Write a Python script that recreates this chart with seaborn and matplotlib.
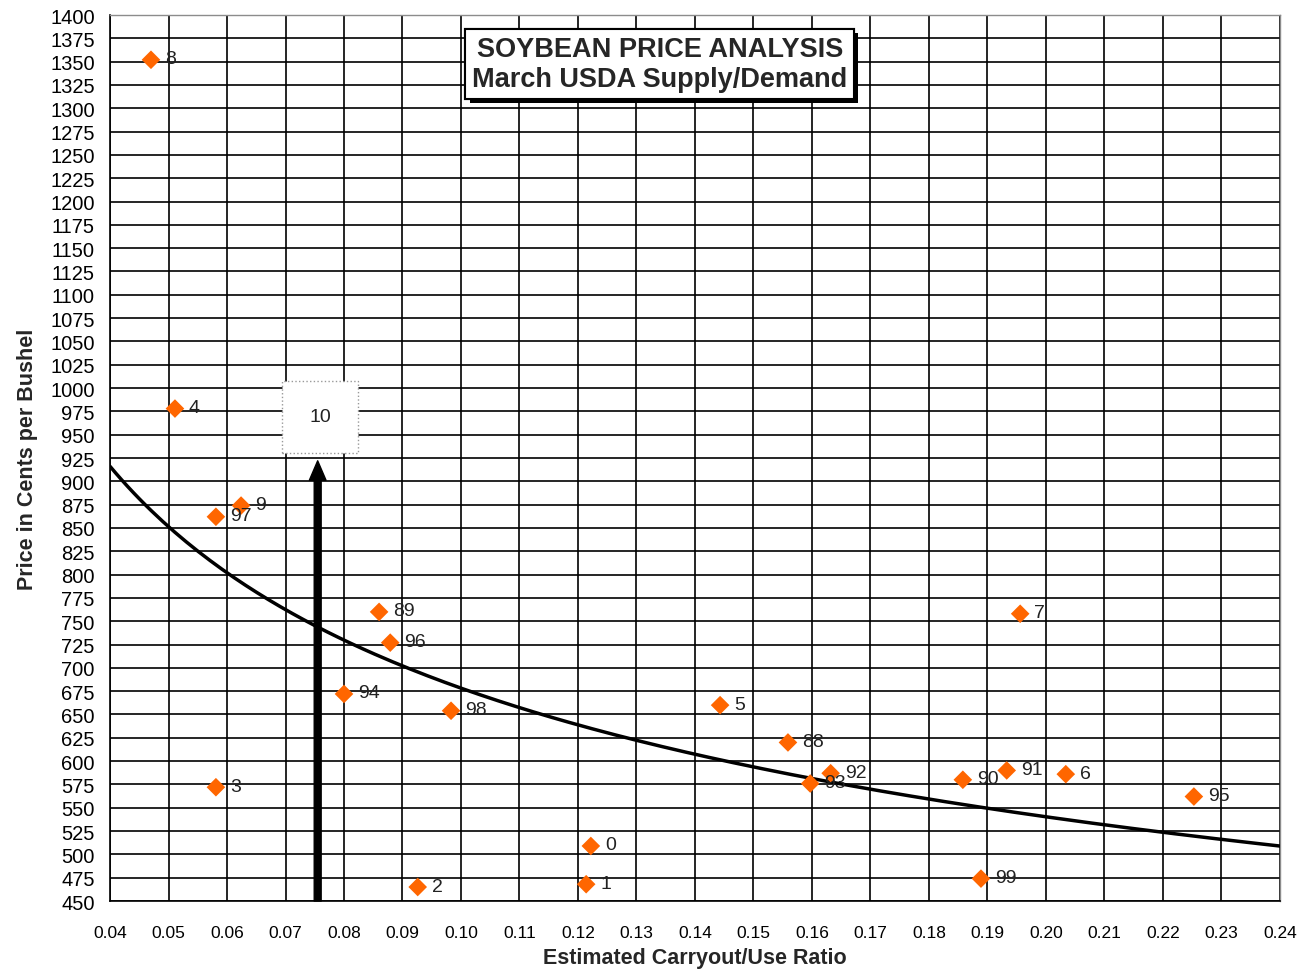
import numpy as np
import pandas as pd
import seaborn as sns
import matplotlib.pyplot as plt
import matplotlib.patheffects as pe

# data
years = ["8", "4", "9", "97", "3", "89", "96", "94", "98", "2", "1", "0",
         "5", "88", "93", "92", "90", "91", "6", "7", "95", "99"]
ratio = [0.047, 0.0511, 0.0624, 0.0581, 0.0581, 0.0860, 0.0879, 0.0800, 0.0983, 0.0926, 0.1214, 0.1222,
         0.1443, 0.1559, 0.1597, 0.1632, 0.1858, 0.1933, 0.2034, 0.1956, 0.2253, 0.1889]
price = [1352, 978, 874, 862, 572, 760, 727, 672, 654, 465, 468, 509,
         660, 620, 576, 587, 580, 590, 586, 758, 562, 474]

# power trendline (y = a * x^b)
trend_a = 318.7
trend_b = -0.328

arrow_x = 0.0755
arrow_top = 922
box_label = "10"
box_y = 969

df = pd.DataFrame({"ratio": ratio, "price": price, "year": years})

sns.set_style("white")
plt.rcParams["font.family"] = ["Liberation Sans", "DejaVu Sans"]

fig = plt.figure(figsize=(13.1, 9.7), dpi=100)
ax = fig.add_axes([0.084, 0.0701, 0.893, 0.9134])

# trend line
tx = np.linspace(0.04, 0.24, 200)
trend = pd.DataFrame({"x": tx, "y": trend_a * tx ** trend_b})
sns.lineplot(data=trend, x="x", y="y", ax=ax, color="black", linewidth=2.5, zorder=3)

# points
sns.scatterplot(data=df, x="ratio", y="price", ax=ax, marker="D", s=90,
                color="#FF6600", edgecolor="none", zorder=4)

for _, r in df.iterrows():
    ax.annotate(r["year"], (r["ratio"], r["price"]), xytext=(14, 1),
                textcoords="offset pixels", va="center", ha="left",
                fontsize=14, color="#222222", zorder=5)

# arrow pointing at 2010
ax.annotate("", xy=(arrow_x, arrow_top), xytext=(arrow_x, 450),
            arrowprops=dict(facecolor="black", edgecolor="black", width=5,
                            headwidth=12, headlength=14), zorder=6)
ax.text(arrow_x + 0.0004, box_y, box_label, ha="center", va="center", fontsize=14,
        color="#222222", zorder=5,
        bbox=dict(boxstyle="square,pad=1.4", fc="white", ec="0.6", ls=":", lw=1))

ax.set_xlim(0.04, 0.24)
ax.set_ylim(450, 1400)
ax.set_xticks(np.arange(0.04, 0.2401, 0.01))
ax.set_xticklabels([f"{v:.2f}" for v in np.arange(0.04, 0.2401, 0.01)])
ax.set_yticks(np.arange(450, 1401, 25))
ax.tick_params(axis="both", direction="out", length=6, width=1, color="black",
               labelcolor="black")
ax.tick_params(axis="x", pad=11, labelsize=12.5)
ax.tick_params(axis="y", pad=5, labelsize=14.5)
ax.grid(True, color="black", linewidth=1.2)
ax.set_axisbelow(True)

for side in ["left", "bottom"]:
    ax.spines[side].set_color("black")
    ax.spines[side].set_linewidth(1.2)
for side in ["top", "right"]:
    ax.spines[side].set_color("0.55")
    ax.spines[side].set_linewidth(1)

ax.set_xlabel("Estimated Carryout/Use Ratio", fontsize=15.5, fontweight="bold", labelpad=5)
ax.set_ylabel("Price in Cents per Bushel", fontsize=15.5, fontweight="bold", labelpad=9)

title = ax.text(0.47, 0.945, "SOYBEAN PRICE ANALYSIS\nMarch USDA Supply/Demand",
                transform=ax.transAxes, ha="center", va="center", fontsize=19.5,
                fontweight="bold", linespacing=1.2, zorder=7,
                bbox=dict(boxstyle="square,pad=0.25", fc="white", ec="black", lw=1.5))
title.get_bbox_patch().set_path_effects(
    [pe.withSimplePatchShadow(offset=(3, -3), shadow_rgbFace="black", alpha=1), pe.Normal()])

fig.savefig("out.png", dpi=100)
